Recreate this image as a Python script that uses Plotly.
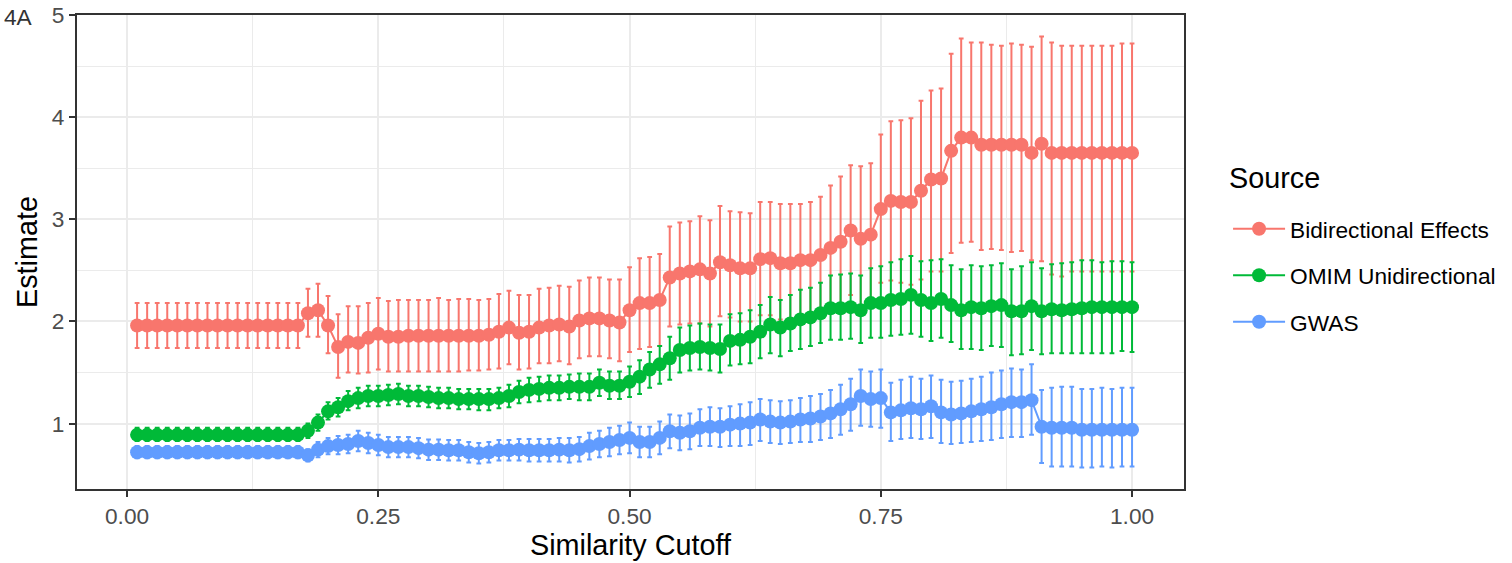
import plotly.graph_objects as go

# Similarity cutoff grid
cutoff = [
    0.01, 0.02, 0.03, 0.04, 0.05, 0.06, 0.07, 0.08, 0.09, 0.10,
    0.11, 0.12, 0.13, 0.14, 0.15, 0.16, 0.17, 0.18, 0.19, 0.20,
    0.21, 0.22, 0.23, 0.24, 0.25, 0.26, 0.27, 0.28, 0.29, 0.30,
    0.31, 0.32, 0.33, 0.34, 0.35, 0.36, 0.37, 0.38, 0.39, 0.40,
    0.41, 0.42, 0.43, 0.44, 0.45, 0.46, 0.47, 0.48, 0.49, 0.50,
    0.51, 0.52, 0.53, 0.54, 0.55, 0.56, 0.57, 0.58, 0.59, 0.60,
    0.61, 0.62, 0.63, 0.64, 0.65, 0.66, 0.67, 0.68, 0.69, 0.70,
    0.71, 0.72, 0.73, 0.74, 0.75, 0.76, 0.77, 0.78, 0.79, 0.80,
    0.81, 0.82, 0.83, 0.84, 0.85, 0.86, 0.87, 0.88, 0.89, 0.90,
    0.91, 0.92, 0.93, 0.94, 0.95, 0.96, 0.97, 0.98, 0.99, 1.00,
]

# Bidirectional Effects: estimate and interval bounds
bidir_est = [
    1.96, 1.96, 1.96, 1.96, 1.96, 1.96, 1.96, 1.96, 1.96, 1.96,
    1.96, 1.96, 1.96, 1.96, 1.96, 1.96, 1.96, 2.08, 2.11, 1.96,
    1.75, 1.80, 1.79, 1.84, 1.88, 1.85, 1.85, 1.86, 1.86, 1.86,
    1.86, 1.86, 1.86, 1.86, 1.86, 1.87, 1.90, 1.94, 1.89, 1.90,
    1.94, 1.96, 1.97, 1.95, 2.01, 2.03, 2.03, 2.01, 1.99, 2.11,
    2.18, 2.18, 2.21, 2.43, 2.47, 2.49, 2.51, 2.47, 2.58, 2.55,
    2.52, 2.52, 2.61, 2.62, 2.57, 2.57, 2.60, 2.60, 2.65, 2.72,
    2.78, 2.89, 2.81, 2.85, 3.10, 3.18, 3.17, 3.17, 3.28, 3.39,
    3.40, 3.67, 3.80, 3.80, 3.73, 3.73, 3.73, 3.73, 3.73, 3.65,
    3.74, 3.65, 3.65, 3.65, 3.65, 3.65, 3.65, 3.65, 3.65, 3.65,
]
bidir_hi = [
    2.18, 2.18, 2.18, 2.18, 2.18, 2.18, 2.18, 2.18, 2.18, 2.18,
    2.18, 2.18, 2.18, 2.18, 2.18, 2.18, 2.18, 2.32, 2.37, 2.25,
    2.07, 2.15, 2.15, 2.18, 2.23, 2.20, 2.21, 2.21, 2.21, 2.21,
    2.23, 2.21, 2.22, 2.22, 2.21, 2.22, 2.27, 2.30, 2.26, 2.26,
    2.32, 2.33, 2.35, 2.34, 2.40, 2.43, 2.43, 2.41, 2.41, 2.53,
    2.62, 2.63, 2.66, 2.93, 2.97, 2.98, 3.03, 2.99, 3.13, 3.08,
    3.07, 3.06, 3.17, 3.17, 3.15, 3.15, 3.15, 3.17, 3.22, 3.33,
    3.42, 3.53, 3.52, 3.55, 3.83, 3.96, 3.97, 3.99, 4.16, 4.26,
    4.28, 4.62, 4.77, 4.73, 4.73, 4.71, 4.70, 4.72, 4.71, 4.69,
    4.79, 4.73, 4.70, 4.70, 4.70, 4.70, 4.70, 4.70, 4.72, 4.72,
]
bidir_lo = [
    1.74, 1.74, 1.74, 1.74, 1.74, 1.74, 1.74, 1.74, 1.74, 1.74,
    1.74, 1.74, 1.74, 1.74, 1.74, 1.74, 1.74, 1.85, 1.85, 1.69,
    1.45, 1.50, 1.49, 1.50, 1.53, 1.51, 1.51, 1.51, 1.51, 1.51,
    1.51, 1.51, 1.51, 1.52, 1.52, 1.53, 1.54, 1.58, 1.53, 1.54,
    1.59, 1.59, 1.61, 1.58, 1.64, 1.66, 1.66, 1.64, 1.61, 1.70,
    1.73, 1.75, 1.76, 1.95, 1.97, 1.98, 1.98, 1.95, 2.05, 2.04,
    2.00, 2.00, 2.06, 2.06, 2.02, 2.00, 2.02, 2.04, 2.08, 2.12,
    2.16, 2.26, 2.12, 2.16, 2.38, 2.40, 2.38, 2.36, 2.41, 2.49,
    2.49, 2.67, 2.77, 2.78, 2.70, 2.71, 2.70, 2.68, 2.69, 2.60,
    2.59, 2.46, 2.44, 2.49, 2.49, 2.49, 2.49, 2.49, 2.49, 2.49,
]

# OMIM Unidirectional
omim_est = [
    0.89, 0.89, 0.89, 0.89, 0.89, 0.89, 0.89, 0.89, 0.89, 0.89,
    0.89, 0.89, 0.89, 0.89, 0.89, 0.89, 0.89, 0.93, 1.01, 1.12,
    1.16, 1.22, 1.25, 1.27, 1.27, 1.28, 1.29, 1.27, 1.27, 1.26,
    1.25, 1.25, 1.24, 1.24, 1.24, 1.24, 1.25, 1.27, 1.31, 1.33,
    1.34, 1.35, 1.35, 1.36, 1.36, 1.36, 1.40, 1.37, 1.37, 1.41,
    1.46, 1.53, 1.58, 1.64, 1.72, 1.74, 1.75, 1.74, 1.73, 1.81,
    1.82, 1.85, 1.90, 1.97, 1.94, 1.98, 2.02, 2.04, 2.08, 2.13,
    2.13, 2.14, 2.11, 2.18, 2.18, 2.21, 2.22, 2.26, 2.21, 2.18,
    2.22, 2.16, 2.11, 2.14, 2.13, 2.15, 2.16, 2.10, 2.10, 2.15,
    2.10, 2.12, 2.11, 2.12, 2.13, 2.14, 2.14, 2.14, 2.14, 2.14,
]
omim_hi = [
    0.96, 0.96, 0.96, 0.96, 0.96, 0.96, 0.96, 0.96, 0.96, 0.96,
    0.96, 0.96, 0.96, 0.96, 0.96, 0.96, 0.96, 1.00, 1.09, 1.21,
    1.25, 1.32, 1.35, 1.37, 1.37, 1.38, 1.39, 1.37, 1.37, 1.36,
    1.35, 1.35, 1.34, 1.34, 1.34, 1.34, 1.35, 1.38, 1.42, 1.45,
    1.46, 1.47, 1.47, 1.48, 1.49, 1.49, 1.53, 1.51, 1.51, 1.56,
    1.62, 1.70, 1.76, 1.85, 1.94, 1.96, 1.98, 1.97, 1.97, 2.07,
    2.08, 2.11, 2.16, 2.24, 2.21, 2.26, 2.31, 2.33, 2.38, 2.45,
    2.46, 2.47, 2.45, 2.52, 2.54, 2.58, 2.61, 2.64, 2.59, 2.60,
    2.61, 2.55, 2.51, 2.55, 2.54, 2.55, 2.57, 2.51, 2.54, 2.58,
    2.52, 2.56, 2.57, 2.58, 2.60, 2.60, 2.58, 2.59, 2.59, 2.58,
]
omim_lo = [
    0.83, 0.83, 0.83, 0.83, 0.83, 0.83, 0.83, 0.83, 0.83, 0.83,
    0.83, 0.83, 0.83, 0.83, 0.83, 0.83, 0.83, 0.86, 0.93, 1.04,
    1.07, 1.13, 1.15, 1.17, 1.17, 1.18, 1.19, 1.17, 1.17, 1.16,
    1.15, 1.15, 1.14, 1.14, 1.13, 1.13, 1.15, 1.16, 1.20, 1.21,
    1.22, 1.23, 1.23, 1.24, 1.23, 1.23, 1.27, 1.24, 1.24, 1.26,
    1.29, 1.35, 1.39, 1.43, 1.50, 1.52, 1.53, 1.52, 1.50, 1.57,
    1.58, 1.59, 1.64, 1.69, 1.66, 1.71, 1.73, 1.76, 1.79, 1.82,
    1.82, 1.83, 1.79, 1.84, 1.84, 1.86, 1.87, 1.88, 1.85, 1.81,
    1.84, 1.80, 1.73, 1.73, 1.72, 1.76, 1.75, 1.67, 1.68, 1.72,
    1.68, 1.69, 1.69, 1.69, 1.69, 1.69, 1.69, 1.69, 1.71, 1.70,
]

# GWAS
gwas_est = [
    0.72, 0.72, 0.72, 0.72, 0.72, 0.72, 0.72, 0.72, 0.72, 0.72,
    0.72, 0.72, 0.72, 0.72, 0.72, 0.72, 0.72, 0.69, 0.745, 0.78,
    0.79, 0.80, 0.83, 0.81, 0.79, 0.77, 0.77, 0.77, 0.76, 0.745,
    0.745, 0.74, 0.74, 0.72, 0.71, 0.72, 0.74, 0.74, 0.745, 0.74,
    0.74, 0.74, 0.745, 0.74, 0.75, 0.78, 0.80, 0.82, 0.84, 0.86,
    0.82, 0.82, 0.86, 0.925, 0.91, 0.925, 0.96, 0.97, 0.97, 0.99,
    1.00, 1.01, 1.04, 1.02, 1.01, 1.02, 1.04, 1.05, 1.07, 1.10,
    1.14, 1.19, 1.27, 1.24, 1.25, 1.11, 1.13, 1.15, 1.14, 1.17,
    1.11, 1.09, 1.10, 1.12, 1.14, 1.16, 1.19, 1.21, 1.21, 1.23,
    0.97, 0.96, 0.96, 0.96, 0.94, 0.94, 0.94, 0.94, 0.94, 0.94,
]
gwas_hi = [
    0.78, 0.78, 0.78, 0.78, 0.78, 0.78, 0.78, 0.78, 0.78, 0.78,
    0.78, 0.78, 0.78, 0.78, 0.78, 0.78, 0.78, 0.75, 0.82, 0.86,
    0.88, 0.89, 0.93, 0.91, 0.89, 0.87, 0.87, 0.87, 0.86, 0.845,
    0.845, 0.84, 0.84, 0.82, 0.81, 0.82, 0.84, 0.84, 0.85, 0.85,
    0.85, 0.85, 0.86, 0.86, 0.87, 0.91, 0.93, 0.96, 0.98, 1.01,
    0.97, 0.97, 1.02, 1.09, 1.08, 1.10, 1.14, 1.16, 1.15, 1.17,
    1.19, 1.21, 1.24, 1.23, 1.22, 1.23, 1.25, 1.27, 1.29, 1.33,
    1.38, 1.44, 1.53, 1.51, 1.53, 1.40, 1.43, 1.46, 1.44, 1.47,
    1.43, 1.41, 1.42, 1.44, 1.46, 1.50, 1.52, 1.54, 1.53, 1.58,
    1.33, 1.35, 1.36, 1.36, 1.34, 1.34, 1.35, 1.34, 1.35, 1.35,
]
gwas_lo = [
    0.66, 0.66, 0.66, 0.66, 0.66, 0.66, 0.66, 0.66, 0.66, 0.66,
    0.66, 0.66, 0.66, 0.66, 0.66, 0.66, 0.66, 0.63, 0.67, 0.70,
    0.70, 0.71, 0.73, 0.71, 0.69, 0.67, 0.67, 0.67, 0.66, 0.645,
    0.645, 0.64, 0.64, 0.62, 0.61, 0.62, 0.64, 0.64, 0.64, 0.63,
    0.63, 0.63, 0.63, 0.62, 0.63, 0.65, 0.67, 0.68, 0.70, 0.71,
    0.67, 0.67, 0.70, 0.76, 0.74, 0.75, 0.78, 0.78, 0.77, 0.78,
    0.78, 0.79, 0.83, 0.81, 0.80, 0.81, 0.82, 0.82, 0.84, 0.86,
    0.89, 0.93, 0.98, 0.97, 0.96, 0.83, 0.85, 0.86, 0.85, 0.86,
    0.81, 0.80, 0.81, 0.82, 0.83, 0.84, 0.86, 0.87, 0.87, 0.89,
    0.615, 0.58, 0.58, 0.58, 0.57, 0.57, 0.58, 0.57, 0.58, 0.58,
]

x_ticks = [0.0, 0.25, 0.5, 0.75, 1.0]
x_ticktext = ["0.00", "0.25", "0.50", "0.75", "1.00"]
x_minor = [0.125, 0.375, 0.625, 0.875]
y_ticks = [1, 2, 3, 4, 5]
y_minor = [1.5, 2.5, 3.5, 4.5]

series = [
    ("Bidirectional Effects", bidir_est, bidir_lo, bidir_hi, "#F8766D"),
    ("OMIM Unidirectional", omim_est, omim_lo, omim_hi, "#00BA38"),
    ("GWAS", gwas_est, gwas_lo, gwas_hi, "#619CFF"),
]

FONT = "Liberation Sans, Arial, Helvetica, sans-serif"

fig = go.Figure()
for name, est, lo, hi, color in series:
    fig.add_trace(go.Scatter(
        x=cutoff, y=est, name=name, legendgroup=name,
        mode="lines+markers",
        line=dict(color=color, width=2),
        marker=dict(color=color, size=14),
        error_y=dict(
            type="data", symmetric=False,
            array=[h - e for h, e in zip(hi, est)],
            arrayminus=[e - l for e, l in zip(est, lo)],
            color=color, thickness=2, width=2.4,
        ),
    ))

axis_common = dict(
    showgrid=True, gridcolor="#EBEBEB", gridwidth=2,
    ticks="outside", ticklen=6, tickwidth=2, tickcolor="#333333",
    showline=True, linecolor="#333333", linewidth=2, mirror=True,
    zeroline=False, automargin=False,
    tickfont=dict(family=FONT, size=22.7, color="#4D4D4D"),
)

fig.update_xaxes(
    range=[-0.0498, 1.0517],
    tickvals=x_ticks, ticktext=x_ticktext,
    minor=dict(tickvals=x_minor, showgrid=True, gridcolor="#EBEBEB", gridwidth=1, ticks=""),
    title=dict(text="Similarity Cutoff", font=dict(family=FONT, size=28.8, color="black"), standoff=6),
    **axis_common,
)
fig.update_yaxes(
    range=[0.36, 5.0],
    tickvals=y_ticks, ticktext=[str(v) for v in y_ticks],
    minor=dict(tickvals=y_minor, showgrid=True, gridcolor="#EBEBEB", gridwidth=1, ticks=""),
    title=dict(text="Estimate", font=dict(family=FONT, size=28.8, color="black"), standoff=6),
    **axis_common,
)

fig.update_layout(
    width=1512, height=563,
    margin=dict(l=77, r=328, t=15, b=74, autoexpand=False),
    paper_bgcolor="white", plot_bgcolor="white",
    font=dict(family=FONT, color="black"),
    showlegend=True,
    legend=dict(
        x=1.0398, xanchor="left", y=0.594, yanchor="top",
        font=dict(family=FONT, size=22.7, color="black"),
        tracegroupgap=14, itemwidth=52,
        bgcolor="rgba(0,0,0,0)",
    ),
    annotations=[
        dict(text="Source", xref="paper", yref="paper", x=1.0389, y=0.656,
             xanchor="left", yanchor="middle", showarrow=False,
             font=dict(family=FONT, size=28.8, color="black")),
        dict(text="4A", xref="paper", yref="paper", x=-75 / 1107, y=0.9964,
             xanchor="left", yanchor="middle", showarrow=False,
             font=dict(family=FONT, size=22.7, color="#333333")),
    ],
)

fig.write_html("out.html")
